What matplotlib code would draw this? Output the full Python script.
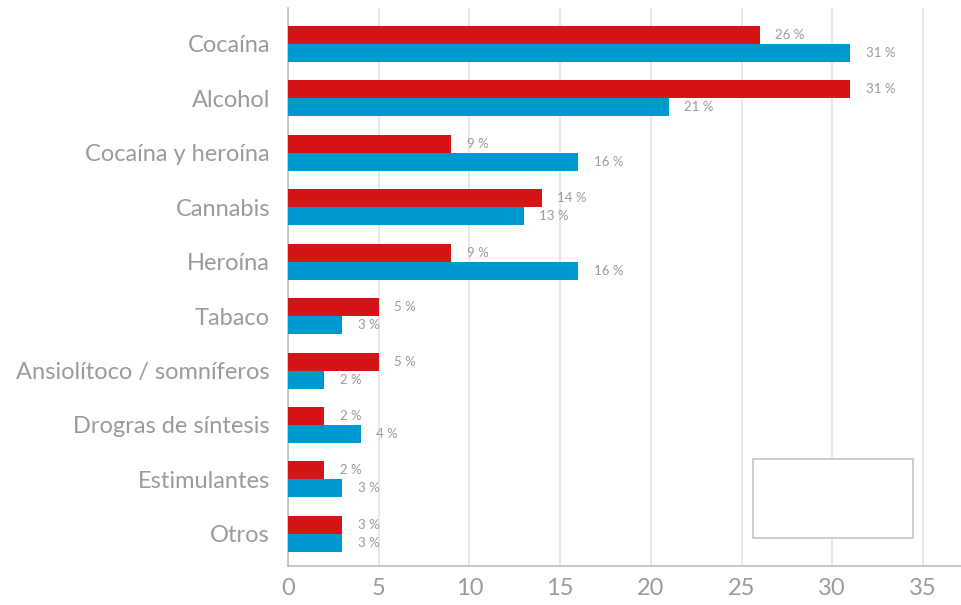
import matplotlib
matplotlib.use("Agg")
import matplotlib.pyplot as plt
from matplotlib.patches import Rectangle

plt.rcParams['font.family'] = ['Lato', 'DejaVu Sans']

categories = ["Cocaína", "Alcohol", "Cocaína y heroína", "Cannabis", "Heroína",
              "Tabaco", "Ansiolítoco / somníferos", "Drogras de síntesis",
              "Estimulantes", "Otros"]
serie_roja = [26, 31, 9, 14, 9, 5, 5, 2, 2, 3]
serie_azul = [31, 21, 16, 13, 16, 3, 2, 4, 3, 3]
x_ticks = [0, 5, 10, 15, 20, 25, 30, 35]

RED = "#d51418"
BLUE = "#0098d0"
TEXT = "#9a9a9a"

fig = plt.figure(figsize=(9.61, 6.05), dpi=100)
ax = fig.add_axes([0.2997, 0.0645, 0.7003, 0.9223])

pos = list(range(len(categories)))
h = 0.33
ax.barh([p - h / 2 for p in pos], serie_roja, height=h, color=RED, zorder=3)
ax.barh([p + h / 2 for p in pos], serie_azul, height=h, color=BLUE, zorder=3)

for p, v in zip(pos, serie_roja):
    ax.annotate(f"{v} %", (v, p - h / 2), xytext=(11, 0), textcoords="offset points",
                va="center", ha="left", fontsize=9.5, color=TEXT)
for p, v in zip(pos, serie_azul):
    ax.annotate(f"{v} %", (v, p + h / 2), xytext=(11, 0), textcoords="offset points",
                va="center", ha="left", fontsize=9.5, color=TEXT)

ax.set_xlim(0, 37.1)
ax.set_ylim(len(categories) - 1 + 0.59, -0.66)
ax.set_xticks(x_ticks)
ax.set_xticklabels([str(t) for t in x_ticks], fontsize=17, color=TEXT)
ax.set_yticks(pos)
ax.set_yticklabels(categories, fontsize=17, color=TEXT)
ax.tick_params(axis="both", length=0)
ax.tick_params(axis="x", pad=9)
ax.tick_params(axis="y", pad=13)

ax.grid(axis="x", color="#e4e4e4", linewidth=1.2, zorder=0)
ax.set_axisbelow(True)
for s in ["top", "right"]:
    ax.spines[s].set_visible(False)
for s in ["left", "bottom"]:
    ax.spines[s].set_color("#bdbdbd")
    ax.spines[s].set_linewidth(1.2)

# empty legend frame
ax.add_patch(Rectangle((0.691, 0.050), 0.238, 0.141, transform=ax.transAxes,
                       facecolor="white", edgecolor="#c4c4c4", linewidth=1.2, zorder=4))

fig.savefig("out.png", dpi=100)
